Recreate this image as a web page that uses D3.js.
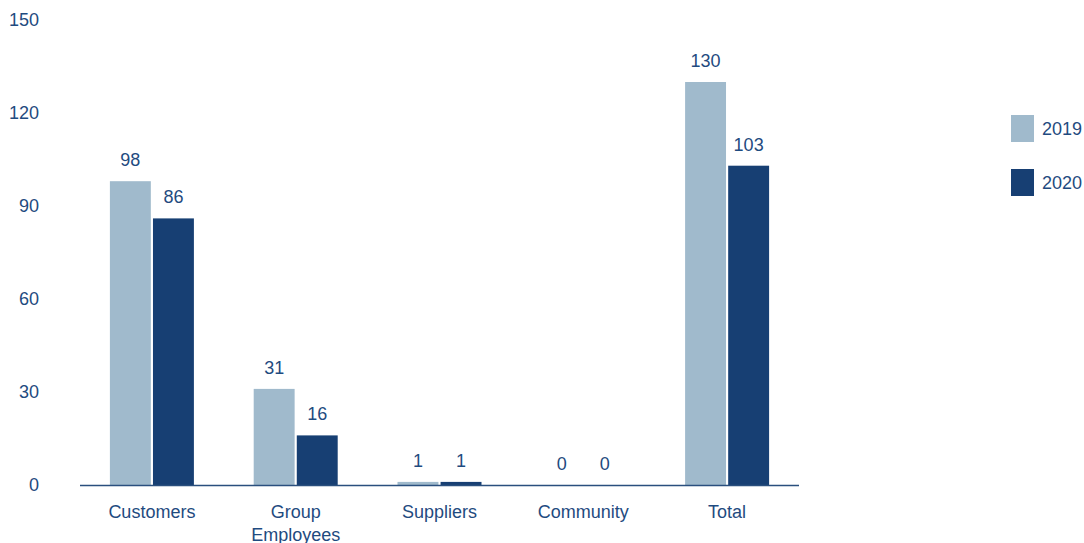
<!DOCTYPE html>
<html>
<head>
<meta charset="utf-8">
<script src="https://cdn.jsdelivr.net/npm/d3@7"></script>
<style>
  body { margin: 0; background: #fff; }
  text { font-family: "Liberation Sans", Arial, sans-serif; fill: #1f4b80; }
</style>
</head>
<body>
<div id="chart"></div>
<script>
// Data
var categories = ["Customers", "Group Employees", "Suppliers", "Community", "Total"];
var years = ["2019", "2020"];
var values2019 = [98, 31, 1, 0, 130];
var values2020 = [86, 16, 1, 0, 103];
var yTicks = [0, 30, 60, 90, 120, 150];
var colors = ["#a0bacc", "#173f73"];

var svgWidth = 1084, svgHeight = 543;
var fontSize = 18;

var svg = d3.select("#chart")
    .append("svg")
    .attr("width", svgWidth)
    .attr("height", svgHeight);

// Scales
var x0 = d3.scaleBand()
    .domain(categories)
    .range([80, 799]);

var x1 = d3.scaleBand()
    .domain(years)
    .range([x0.bandwidth() / 2 - 42, x0.bandwidth() / 2 + 42])
    .paddingInner(0.05);

var y = d3.scaleLinear()
    .domain([0, 150])
    .range([485, 20]);

var color = d3.scaleOrdinal().domain(years).range(colors);

// Y tick labels (no axis line)
svg.append("g")
    .selectAll("text")
    .data(yTicks)
    .enter()
    .append("text")
    .attr("x", 39)
    .attr("y", d => y(d))
    .attr("dy", "0.35em")
    .attr("text-anchor", "end")
    .attr("font-size", fontSize)
    .text(d => d);

// Bars
var rows = categories.map((c, i) => ({cat: c, vals: [values2019[i], values2020[i]]}));

var groups = svg.selectAll(".cat")
    .data(rows)
    .enter()
    .append("g")
    .attr("transform", d => `translate(${x0(d.cat)},0)`);

groups.selectAll("rect")
    .data(d => d.vals.map((v, j) => ({year: years[j], value: v})))
    .enter()
    .append("rect")
    .attr("x", d => x1(d.year))
    .attr("width", x1.bandwidth())
    .attr("y", d => y(d.value))
    .attr("height", d => y(0) - y(d.value))
    .attr("fill", d => color(d.year));

groups.selectAll(".val")
    .data(d => d.vals.map((v, j) => ({year: years[j], value: v})))
    .enter()
    .append("text")
    .attr("class", "val")
    .attr("x", d => x1(d.year) + x1.bandwidth() / 2)
    .attr("y", d => y(d.value) - 15)
    .attr("text-anchor", "middle")
    .attr("font-size", fontSize)
    .text(d => d.value);

// X axis line
svg.append("line")
    .attr("x1", 80)
    .attr("x2", 799)
    .attr("y1", y(0) + 0.5)
    .attr("y2", y(0) + 0.5)
    .attr("stroke", "#2a4f7e")
    .attr("stroke-width", 1.5);

// Category labels
var catLabels = svg.append("g")
    .selectAll("text")
    .data(categories)
    .enter()
    .append("text")
    .attr("x", d => x0(d) + x0.bandwidth() / 2)
    .attr("y", 518)
    .attr("text-anchor", "middle")
    .attr("font-size", fontSize);

catLabels.each(function(d) {
    var words = d === "Group Employees" ? ["Group", "Employees"] : [d];
    var t = d3.select(this);
    words.forEach((w, k) => {
        t.append("tspan")
            .attr("x", x0(d) + x0.bandwidth() / 2)
            .attr("dy", k === 0 ? 0 : 23)
            .text(w);
    });
});

// Legend
var legend = svg.append("g")
    .selectAll("g")
    .data(years)
    .enter()
    .append("g")
    .attr("transform", (d, i) => `translate(1011, ${115 + i * 54})`);

legend.append("rect")
    .attr("width", 23)
    .attr("height", 27)
    .attr("fill", d => color(d));

legend.append("text")
    .attr("x", 31)
    .attr("y", 13.5)
    .attr("dy", "0.35em")
    .attr("font-size", fontSize)
    .text(d => d);
</script>
</body>
</html>
